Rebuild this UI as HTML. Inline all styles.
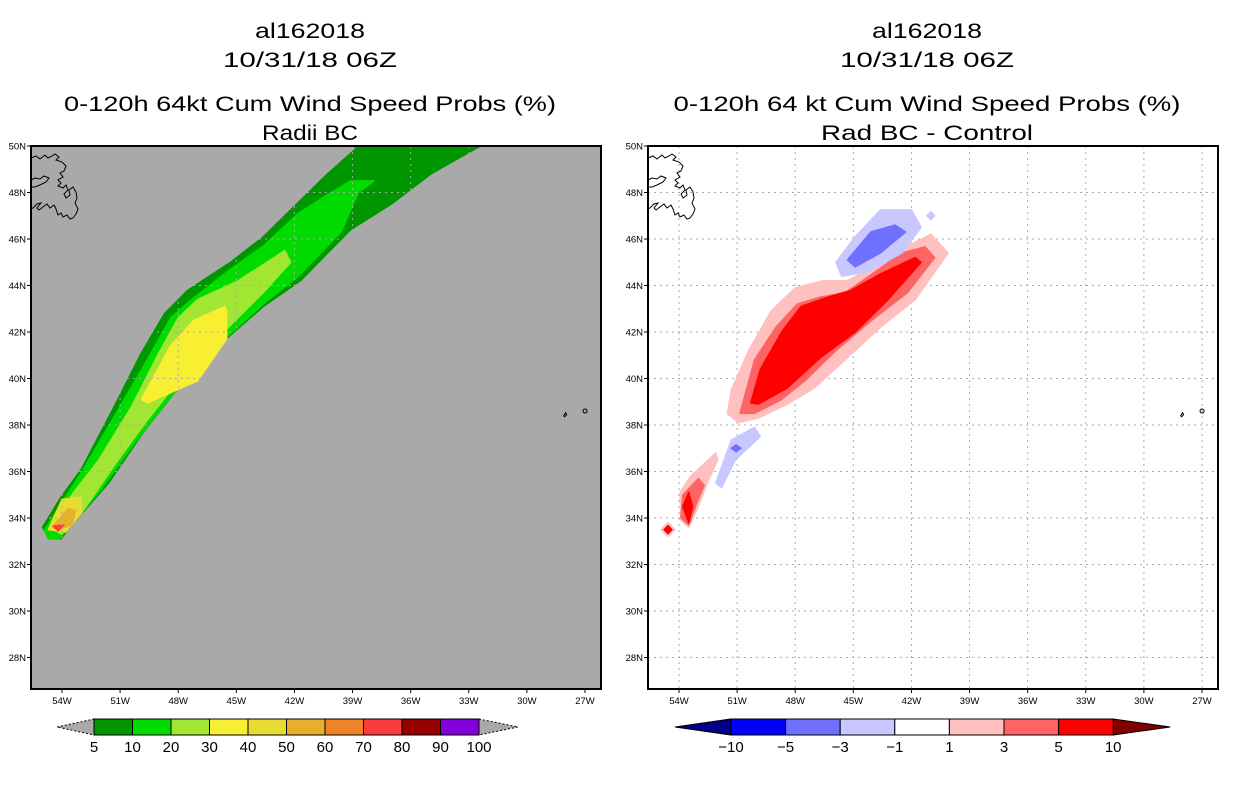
<!DOCTYPE html>
<html><head><meta charset="utf-8">
<style>
html,body{margin:0;padding:0;background:#fff;width:1236px;height:800px;overflow:hidden}
svg{display:block}
text{font-family:"Liberation Sans",sans-serif}
</style></head>
<body>
<svg id="fig" width="1236" height="800" viewBox="0 0 1236 800" xmlns="http://www.w3.org/2000/svg">
<g font-size="21" text-anchor="middle" fill="#000">
<text x="310" y="38" textLength="110" lengthAdjust="spacingAndGlyphs">al162018</text>
<text x="310" y="67" textLength="174" lengthAdjust="spacingAndGlyphs">10/31/18 06Z</text>
<text x="310" y="111" textLength="492" lengthAdjust="spacingAndGlyphs">0-120h 64kt Cum Wind Speed Probs (%)</text>
<text x="310" y="140" textLength="96" lengthAdjust="spacingAndGlyphs">Radii BC</text>
</g>
<g font-size="21" text-anchor="middle" fill="#000">
<text x="927" y="38" textLength="110" lengthAdjust="spacingAndGlyphs">al162018</text>
<text x="927" y="67" textLength="174" lengthAdjust="spacingAndGlyphs">10/31/18 06Z</text>
<text x="927" y="111" textLength="507" lengthAdjust="spacingAndGlyphs">0-120h 64 kt Cum Wind Speed Probs (%)</text>
<text x="927" y="140" textLength="212" lengthAdjust="spacingAndGlyphs">Rad BC - Control</text>
</g>
<g id="left"></g>
<g id="right"></g>
<g id="cbL"></g>
<g id="cbR"></g>
</svg>
<script>
const NS="http://www.w3.org/2000/svg";
// axis data
const latTicks=[28,30,32,34,36,38,40,42,44,46,48,50];
const lonTicks=[54,51,48,45,42,39,36,33,30,27];
// left panel contours (lonW, latN) by level
const probLevels=[5,10,20,30,40,50,70];
const probColors=["#009600","#00dc00","#a0e632","#f8ee32","#e6dc32","#e6b02d","#fa3c3c"];
const probPolys=[
 [[38.8,49.9],[40.3,48.8],[43.6,46.1],[45.3,45.0],[47.5,43.8],[48.7,42.8],[49.9,41.1],[51.3,38.8],[53.0,36.1],[54.05,34.9],[55.0,33.6],[54.7,33.2],[54.05,33.1],[53.4,33.8],[51.6,35.5],[49.8,37.7],[48.0,39.6],[45.8,41.5],[43.6,43.1],[41.7,44.2],[39.1,46.4],[37.0,47.5],[34.95,48.8],[32.4,50.0],[38.9,50.0]],
 [[37.9,48.5],[39.1,48.5],[40.5,47.8],[41.8,47.1],[43.6,45.7],[45.3,44.7],[47.3,43.4],[48.4,42.6],[49.6,40.8],[51.0,38.8],[52.9,36.1],[53.9,34.8],[54.9,33.5],[54.7,33.1],[54.15,33.1],[52.1,35.1],[50.1,37.4],[48.4,39.2],[46.0,41.4],[43.6,43.2],[41.8,44.4],[39.6,46.3],[38.7,48.0]],
 [[42.5,45.5],[44.9,44.2],[47.0,43.4],[48.0,42.6],[49.0,41.1],[50.4,38.8],[52.1,36.5],[53.4,35.1],[54.6,33.6],[54.05,33.3],[53.0,34.2],[51.1,36.5],[49.6,38.2],[47.7,40.2],[45.9,41.8],[43.6,43.7],[42.2,45.0]],
 [[45.6,43.1],[47.2,42.5],[48.4,41.4],[49.9,39.1],[49.6,38.95],[47.0,39.9],[45.5,41.7],[45.5,42.9]],
 [[54.0,34.8],[53.0,34.9],[53.0,34.2],[53.8,33.4],[54.7,33.5]],
 [[53.7,34.4],[53.3,34.3],[53.5,33.7],[54.2,33.5],[54.5,33.6]],
 [[54.45,33.65],[53.9,33.7],[54.2,33.45]]
];
// right panel difference contours
const diffLevels=[1,3,5,-1,-3,-1,-3,1,3,5];
const diffColors=["#ffc0c0","#ff6464","#ff0000","#c8c8ff","#7070ff","#c8c8ff","#7070ff","#ffc0c0","#ff6464","#ff0000"];
const diffPolys=[
 [[46.6,44.2],[48.0,43.9],[49.25,42.9],[50.4,41.2],[51.3,39.5],[51.5,38.5],[50.95,38.1],[49.9,38.3],[48.4,38.9],[47.0,39.6],[45.3,40.9],[43.6,42.2],[41.8,43.4],[40.1,45.4],[41.0,46.2],[42.2,45.7],[43.6,45.0],[45.3,44.2]],
 [[46.7,43.5],[47.9,43.2],[49.0,42.2],[50.1,40.8],[50.85,38.5],[50.1,38.5],[48.7,39.1],[47.5,39.9],[45.9,41.2],[44.2,42.4],[42.2,43.7],[40.8,45.2],[41.3,45.66],[42.5,45.4],[44.2,44.4],[45.4,43.7]],
 [[46.3,43.5],[47.7,43.1],[48.7,42.0],[49.8,40.4],[50.3,38.95],[49.9,38.9],[48.4,39.6],[46.7,40.9],[44.9,42.0],[43.2,43.4],[41.5,45.0],[41.8,45.2],[43.6,44.5],[45.1,43.8]],
 [[43.6,47.25],[44.9,46.1],[45.9,45.0],[45.6,44.4],[44.2,44.6],[42.5,45.4],[41.5,46.5],[42.0,47.25]],
 [[42.85,46.6],[44.1,46.3],[45.3,45.1],[44.9,44.8],[43.6,45.4],[42.3,46.3]],
 [[50.1,37.9],[51.3,37.35],[52.1,35.5],[51.8,35.3],[51.1,36.5],[49.8,37.5]],
 [[51.05,37.15],[51.3,37.0],[51.05,36.85],[50.8,37.0]],
 [[52.1,36.8],[53.4,35.8],[53.95,35.1],[53.9,33.9],[53.5,33.6],[53.0,34.5],[52.5,35.6],[52.0,36.5]],
 [[53.0,35.7],[53.8,35.0],[53.9,34.0],[53.5,33.7],[53.1,34.6],[52.7,35.4]],
 [[53.5,35.1],[53.8,34.5],[53.5,33.8],[53.3,34.5]]
];
const diamondCenters=[[54.57,33.5],[41.0,47.0]];
const diamondLevels=[5,-1];
const cbLabelsL=["5","10","20","30","40","50","60","70","80","90","100"];
const cbColorsL=["#009600","#00dc00","#a0e632","#f8ee32","#e6dc32","#e6b02d","#f08228","#fa3c3c","#960000","#8200dc"];
const cbLabelsR=["-10","-5","-3","-1","1","3","5","10"];
const cbColorsR=["#0000ff","#7070ff","#c8c8ff","#ffffff","#ffc0c0","#ff6464","#ff0000"];

function el(tag,attrs,parent){const e=document.createElementNS(NS,tag);for(const k in attrs)e.setAttribute(k,attrs[k]);parent.appendChild(e);return e;}
const X0=31,W=570,Y0=146,H=543;
function mkX(off){return lon=>off+62+(54-lon)*19.37;}
function yS(lat){return 146+(50-lat)*23.25;}
function poly(pts,xS){return pts.map(p=>xS(p[0]).toFixed(1)+","+yS(p[1]).toFixed(1)).join(" ");}

function panel(g,off,bg,id){
 const xS=mkX(off);
 const clipId="clip"+id;
 const defs=el("defs",{},g);
 const cp=el("clipPath",{id:clipId},defs);
 el("rect",{x:X0+off,y:Y0,width:W,height:H},cp);
 const bgr=el("rect",{x:X0+off,y:Y0,width:W,height:H,fill:bg},g);
 
 
 const inner=el("g",{"clip-path":"url(#"+clipId+")"},g);
 return {xS,inner};
}
function grid(g,xS,off){
 const gg=el("g",{stroke:"#aaa","stroke-width":1,"stroke-dasharray":"2,4"},g);
 
 
 latTicks.forEach(l=>{if(l<50)el("line",{x1:X0+off,x2:X0+off+W,y1:yS(l),y2:yS(l)},gg);});
 lonTicks.forEach(l=>{el("line",{x1:xS(l),x2:xS(l),y1:Y0,y2:Y0+H},gg);});
}
function coast(g,xS,off){
 const c=el("g",{fill:"none",stroke:"#000","stroke-width":1},g);
 
 
 el("path",{transform:"translate("+off+",0)",d:"M31,158 l5,-2 l4,3 l5,-4 l3,3 l4,-2 l3,-2 l4,3 l-3,3 l6,2 l4,4 l-2,5 l-4,2 l3,4 l-5,3 l3,3 l-3,3 l5,2 l3,-3 l2,5 l-4,4 l2,4 l4,-3 l-1,-5 l4,-3 l3,5 l1,6 l-2,5 l3,6 l-2,5 l-3,4 l-3,1 l-3,-4 l-4,2 l-2,-4 l-3,2 l-2,-6 l-2,-4 l-4,3 l-3,-4 l-4,3 l-4,3 l-2,-2 l4,-5 l-4,1 l-4,4 l-5,2 M31,180 l4,-2 l5,1 l4,-3 l5,2 l-3,4 l-6,3 l-5,2 l-4,0"},c);
 el("path",{d:"M"+xS(28.1)+","+yS(38.4)+" l2,-3 l1,2 l-2,2 z M"+xS(27.1)+","+yS(38.6)+" a2,2 0 1,0 4,0 a2,2 0 1,0 -4,0"},c);
}
function axes(g,xS,off){
 const a=el("g",{},g);
 
 
 el("rect",{x:X0+off,y:Y0,width:W,height:H,fill:"none",stroke:"#000","stroke-width":2},a);
 latTicks.forEach(l=>{
  const y=yS(l);
  el("line",{x1:X0+off-4,x2:X0+off,y1:y,y2:y,stroke:"#000"},a);
  const t=el("text",{x:X0+off-5,y:y+3.5,"font-size":9.5,"text-anchor":"end"},a);
  
  
  t.textContent=l+"N";
 });
 lonTicks.forEach(l=>{
  const x=xS(l);
  el("line",{x1:x,x2:x,y1:Y0+H,y2:Y0+H+4,stroke:"#000"},a);
  const t=el("text",{x:x,y:Y0+H+15,"font-size":9.5,"text-anchor":"middle"},a);
  
  
  t.textContent=l+"W";
 });
}
// left
(function(){
 const g=document.getElementById("left");
 const {xS,inner}=panel(g,0,"#a9a9a9","L");
 probPolys.forEach((p,i)=>{
  const e=el("polygon",{points:poly(p,xS),fill:probColors[i],stroke:probColors[i],"stroke-width":1.5,"stroke-linejoin":"round"},inner);
  
  
 });
 grid(inner,xS,0);coast(inner,xS,0);axes(g,xS,0);
})();
// right
(function(){
 const off=617;
 const g=document.getElementById("right");
 const {xS,inner}=panel(g,off,"#ffffff","R");
 grid(inner,xS,off);
 diffPolys.forEach((p,i)=>{
  const e=el("polygon",{points:poly(p,xS),fill:diffColors[i],stroke:diffColors[i],"stroke-width":1.5,"stroke-linejoin":"round"},inner);
  
  
 });
 diamondCenters.forEach((c,i)=>{
  const x=xS(c[0]),y=yS(c[1]);
  const sizes=diamondLevels[i]>0?[8,5]:[5];
  const cols=diamondLevels[i]>0?["#ffc0c0","#ff0000"]:["#c8c8ff"];
  sizes.forEach((s,j)=>{
   const e=el("polygon",{points:`${x},${y-s} ${x+s},${y} ${x},${y+s} ${x-s},${y}`,fill:cols[j]},inner);
   
   
  });
 });
 coast(inner,xS,off);
 axes(g,xS,off);
})();
// colorbars
(function(){
 const g=document.getElementById("cbL");
 const x0=94,w=38.5,y=719,h=16;
 el("polygon",{points:`57,727 ${x0},${y} ${x0},${y+h}`,fill:"#a9a9a9",stroke:"#000","stroke-dasharray":"2,2"},g);
 el("polygon",{points:`${x0+w*10},${y} ${x0+w*10+39},727 ${x0+w*10},${y+h}`,fill:"#a9a9a9",stroke:"#000","stroke-dasharray":"2,2"},g);
 cbColorsL.forEach((c,i)=>{
  const r=el("rect",{x:x0+i*w,y:y,width:w,height:h,fill:c,stroke:"#000"},g);
  
  
 });
 cbLabelsL.forEach((t,i)=>{
  const e=el("text",{x:x0+i*w,y:752,"font-size":15,"text-anchor":"middle"},g);
  
  
  e.textContent=t;
 });
})();
(function(){
 const g=document.getElementById("cbR");
 const x0=731,w=54.6,y=719,h=16;
 el("polygon",{points:`675,727 ${x0},${y} ${x0},${y+h}`,fill:"#00008b",stroke:"#000"},g);
 el("polygon",{points:`${x0+w*7},${y} ${x0+w*7+57},727 ${x0+w*7},${y+h}`,fill:"#800000",stroke:"#000"},g);
 cbColorsR.forEach((c,i)=>{
  const r=el("rect",{x:x0+i*w,y:y,width:w,height:h,fill:c,stroke:"#000"},g);
  
  
 });
 cbLabelsR.forEach((t,i)=>{
  const e=el("text",{x:x0+i*w,y:752,"font-size":15,"text-anchor":"middle"},g);
  
  
  e.textContent=t.replace("-","\u2212");
 });
})();
</script>
</body></html>
